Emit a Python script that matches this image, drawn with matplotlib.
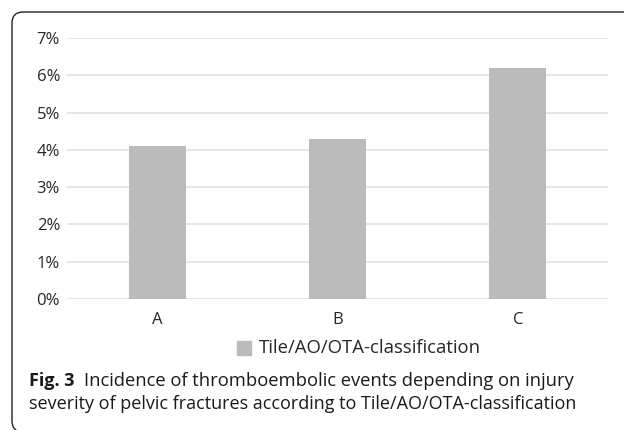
import matplotlib
matplotlib.use("Agg")
import matplotlib.pyplot as plt
from matplotlib.patches import FancyBboxPatch, Rectangle
from matplotlib.ticker import PercentFormatter

categories = ["A", "B", "C"]
incidence = [4.1, 4.3, 6.2]  # percent
y_ticks = [0, 1, 2, 3, 4, 5, 6, 7]
legend_label = "Tile/AO/OTA-classification"
caption_bold = "Fig. 3"
caption_line1 = "Incidence of thromboembolic events depending on injury"
caption_line2 = "severity of pelvic fractures according to Tile/AO/OTA-classification"

bar_color = "#BBBBBB"
grid_color = "#E4E4E4"
text_color = "#262626"
W, H = 624, 430

fig = plt.figure(figsize=(W / 100, H / 100), dpi=100)
ax = fig.add_axes([67 / W, 1 - 299 / H, 541 / W, 261 / H])

x = range(len(categories))
ax.bar(x, incidence, width=0.316, color=bar_color, zorder=2)
ax.set_xlim(-0.5, len(categories) - 0.5)
ax.set_ylim(0, 7)
ax.set_yticks(y_ticks)
ax.yaxis.set_major_formatter(PercentFormatter(decimals=0))
ax.set_xticks(list(x))
ax.set_xticklabels(categories)
ax.grid(axis="y", color=grid_color, linewidth=1.3, zorder=0)
ax.tick_params(length=0, labelsize=12, labelcolor=text_color)
ax.tick_params(axis="y", pad=5)
ax.tick_params(axis="x", pad=9)
for s in ax.spines.values():
    s.set_visible(False)
for lbl in ax.get_xticklabels() + ax.get_yticklabels():
    lbl.set_family("Open Sans")

# legend drawn by hand below the axis
fig.patches.append(Rectangle((237 / W, 1 - 355 / H), 14 / W, 14 / H,
                             transform=fig.transFigure, color=bar_color))
fig.text(259 / W, 1 - 348 / H, legend_label, ha="left", va="center",
         fontsize=13.3, family="Open Sans", color=text_color)

# caption
t = fig.text(29 / W, 1 - 381 / H, caption_bold + "  ", ha="left", va="center",
             fontsize=13, family="Open Sans", weight="bold", color="#1a1a1a")
fig.canvas.draw()
bb = t.get_window_extent()
fig.text(bb.x1 / W, 1 - 381 / H, caption_line1, ha="left", va="center",
         fontsize=13.2, family="Open Sans", color="#1a1a1a")
fig.text(29 / W, 1 - 404 / H, caption_line2, ha="left", va="center",
         fontsize=13, family="Open Sans", color="#1a1a1a")

# rounded frame, running off the right and bottom edges
frame = FancyBboxPatch((0.12, -0.02), 8.0, 4.18 + 0.02,
                       boxstyle="round,pad=0,rounding_size=0.11",
                       transform=fig.dpi_scale_trans, fill=False,
                       edgecolor="#222222", linewidth=1.0, clip_on=False)
fig.patches.append(frame)

fig.savefig("out.png", dpi=100)
